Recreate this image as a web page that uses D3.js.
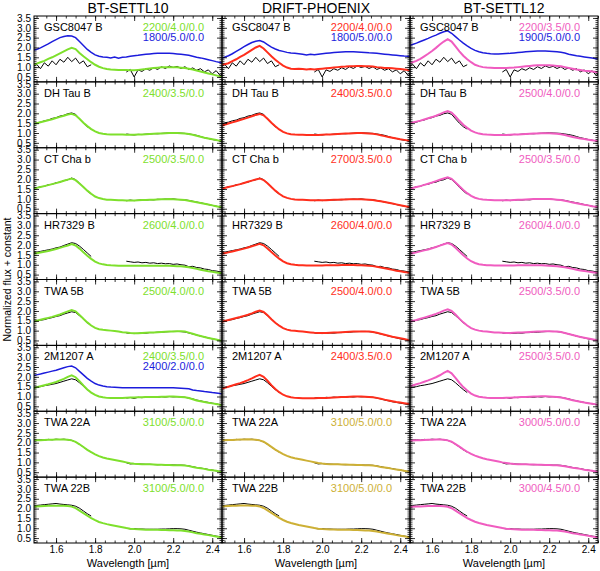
<!DOCTYPE html>
<html>
<head>
<meta charset="utf-8">
<script src="https://cdn.jsdelivr.net/npm/d3@7"></script>
<style>
  body { margin: 0; background: #fff; }
  text { font-family: "Liberation Sans", Arial, sans-serif; fill: #000; }
</style>
</head>
<body>
<svg id="chart" width="600" height="571"></svg>
<script>
// wavelength grids in micron
const modelWave = [1.48,1.50,1.52,1.54,1.56,1.58,1.60,1.62,1.64,1.66,
  1.68,1.70,1.72,1.74,1.76,1.78,1.80,1.82,1.84,1.86,
  1.88,1.90,1.92,1.94,1.96,1.98,2.00,2.02,2.04,2.06,
  2.08,2.10,2.12,2.14,2.16,2.18,2.20,2.22,2.24,2.26,
  2.28,2.30,2.32,2.34,2.36,2.38,2.40,2.42,2.44,2.46];
const obsWaveH = [1.48,1.50,1.52,1.54,1.56,1.58,1.60,1.62,1.64,1.66,1.68,1.70,1.72,1.74,1.76,1.78];
const obsWaveK = [1.96,1.98,2.00,2.02,2.04,2.06,2.08,2.10,2.12,2.14,2.16,2.18,2.20,
  2.22,2.24,2.26,2.28,2.30,2.32,2.34,2.36,2.38,2.40,2.42,2.44,2.46];

const gridNames = ["BT-SETTL10", "DRIFT-PHOENIX", "BT-SETTL12"];
const objectNames = ["GSC8047 B", "DH Tau B", "CT Cha b", "HR7329 B", "TWA 5B", "2M1207 A", "TWA 22A", "TWA 22B"];
const yTicks = [0.5, 1.0, 1.5, 2.0, 2.5, 3.0, 3.5];
const xTicks = [1.6, 1.8, 2.0, 2.2, 2.4];

// observed spectra (black), H and K windows
const obsH_gsc = [1.00,1.15,0.92,1.22,1.05,1.32,1.12,1.40,1.25,1.50,1.28,1.46,1.18,1.32,1.02,1.12];
const obsK_gsc = [0.75,0.88,0.50,0.86,0.78,0.92,0.84,0.97,0.88,1.02,0.93,1.06,0.98,1.04,0.93,1.02,0.88,0.96,0.84,0.92,0.76,0.86,0.66,0.82,0.58,0.72];
const obsH_dhtau = [1.45,1.52,1.55,1.62,1.66,1.74,1.78,1.86,1.90,1.98,2.02,1.95,1.72,1.50,1.32,1.20];
const obsK_dhtau = [0.95,0.92,0.90,0.93,0.92,0.94,0.95,0.97,0.96,0.98,0.99,1.00,1.01,1.00,0.99,0.98,0.95,0.92,0.88,0.82,0.76,0.72,0.67,0.63,0.60,0.57];
const obsH_ctcha = [1.52,1.55,1.62,1.64,1.72,1.74,1.82,1.85,1.93,1.97,2.06,1.98,1.80,1.58,1.40,1.24];
const obsK_ctcha = [0.90,0.94,0.91,0.93,0.95,0.94,0.96,0.95,0.98,0.97,0.99,0.98,1.00,0.97,0.96,0.95,0.92,0.88,0.84,0.80,0.76,0.71,0.67,0.63,0.58,0.55];
const obsH_hr7329 = [1.60,1.64,1.68,1.72,1.76,1.80,1.86,1.90,1.98,2.05,2.12,2.08,1.95,1.78,1.60,1.42];
const obsK_hr7329 = [1.18,1.15,1.12,1.14,1.10,1.12,1.08,1.10,1.06,1.08,1.05,1.06,1.02,1.04,1.00,0.98,0.90,0.92,0.86,0.84,0.78,0.76,0.70,0.68,0.64,0.62];
const obsH_twa5 = [1.44,1.47,1.53,1.56,1.62,1.66,1.72,1.76,1.84,1.90,1.96,1.92,1.76,1.58,1.40,1.26];
const obsK_twa5 = [0.88,0.86,0.85,0.86,0.88,0.87,0.90,0.90,0.92,0.92,0.94,0.95,0.96,0.96,0.95,0.93,0.88,0.83,0.78,0.72,0.68,0.63,0.58,0.54,0.50,0.47];
const obsH_2m1207 = [1.42,1.46,1.50,1.55,1.58,1.62,1.66,1.72,1.78,1.84,1.90,1.85,1.70,1.52,1.35,1.20];
const obsK_2m1207 = [0.92,0.95,0.90,0.96,0.94,0.97,0.95,0.98,0.96,0.99,0.97,1.00,0.98,0.99,0.97,0.96,0.92,0.88,0.82,0.78,0.73,0.70,0.66,0.63,0.58,0.55];
const obsH_twa22a = [2.12,2.14,2.15,2.13,2.17,2.15,2.18,2.16,2.18,2.15,2.12,2.04,1.92,1.78,1.64,1.52];
const obsK_twa22a = [0.98,0.92,0.94,0.92,0.91,0.90,0.90,0.89,0.88,0.89,0.88,0.87,0.87,0.86,0.86,0.85,0.82,0.78,0.74,0.71,0.68,0.64,0.61,0.57,0.53,0.50];
const obsH_twa22b = [2.12,2.16,2.18,2.20,2.22,2.24,2.26,2.23,2.21,2.19,2.17,2.12,2.02,1.88,1.74,1.62];
const obsK_twa22b = [1.00,0.97,0.98,0.96,0.96,0.95,0.95,0.95,0.95,0.96,0.96,0.97,0.98,0.98,0.97,0.95,0.90,0.85,0.80,0.76,0.72,0.68,0.64,0.60,0.57,0.55];

// BT-SETTL10 models
const s10_gsc = [1.12,1.18,1.25,1.32,1.42,1.50,1.60,1.70,1.80,1.90,
  1.98,1.92,1.72,1.55,1.40,1.25,1.12,1.02,0.95,0.90,
  0.88,0.87,0.86,0.85,0.85,0.84,0.84,0.86,0.88,0.90,
  0.93,0.95,0.97,0.99,1.00,1.00,1.00,0.99,0.97,0.95,
  0.92,0.88,0.83,0.78,0.73,0.68,0.63,0.58,0.53,0.50];
const s10_gscCool = [1.85,1.90,1.98,2.08,2.18,2.30,2.40,2.50,2.56,2.60,
  2.58,2.50,2.30,2.10,1.90,1.75,1.62,1.55,1.52,1.50,
  1.46,1.51,1.45,1.50,1.52,1.55,1.58,1.60,1.63,1.65,
  1.67,1.69,1.70,1.70,1.71,1.70,1.69,1.67,1.65,1.63,
  1.60,1.55,1.50,1.47,1.43,1.38,1.33,1.28,1.24,1.20];
const s10_dhtau = [1.45,1.50,1.55,1.60,1.65,1.70,1.76,1.82,1.88,1.94,
  1.98,1.90,1.72,1.52,1.35,1.20,1.08,1.00,0.96,0.94,
  0.93,0.93,0.92,0.92,0.91,0.91,0.91,0.92,0.93,0.94,
  0.95,0.96,0.97,0.98,0.99,1.00,1.00,1.00,0.99,0.98,
  0.95,0.91,0.86,0.81,0.76,0.72,0.68,0.64,0.60,0.57];
const s10_ctcha = [1.52,1.56,1.60,1.65,1.70,1.75,1.80,1.86,1.92,1.98,
  2.03,1.95,1.78,1.60,1.42,1.26,1.12,1.04,0.99,0.96,
  0.95,0.94,0.93,0.93,0.92,0.92,0.92,0.93,0.94,0.94,
  0.95,0.96,0.97,0.98,0.98,0.99,0.98,0.97,0.96,0.94,
  0.91,0.87,0.83,0.79,0.75,0.71,0.67,0.63,0.59,0.56];
const s10_hr7329 = [1.55,1.58,1.62,1.66,1.70,1.75,1.80,1.86,1.92,1.98,
  2.05,1.98,1.82,1.64,1.46,1.30,1.16,1.07,1.02,0.99,
  0.97,0.96,0.95,0.95,0.95,0.95,0.95,0.95,0.95,0.95,
  0.95,0.95,0.95,0.95,0.95,0.95,0.94,0.93,0.92,0.90,
  0.87,0.83,0.79,0.75,0.71,0.67,0.64,0.61,0.58,0.55];
const s10_twa5 = [1.45,1.50,1.55,1.60,1.65,1.70,1.76,1.82,1.90,1.98,
  2.05,1.98,1.80,1.60,1.42,1.26,1.14,1.07,1.04,1.02,
  1.00,0.98,0.95,0.92,0.90,0.88,0.87,0.87,0.88,0.89,
  0.90,0.91,0.92,0.93,0.94,0.95,0.96,0.97,0.97,0.95,
  0.90,0.84,0.78,0.73,0.68,0.63,0.59,0.55,0.50,0.47];
const s10_2m1207 = [1.42,1.47,1.52,1.57,1.62,1.68,1.74,1.82,1.90,2.00,
  2.08,1.98,1.78,1.56,1.36,1.20,1.08,1.00,0.96,0.93,
  0.92,0.92,0.92,0.93,0.94,0.95,0.95,0.96,0.96,0.97,
  0.97,0.98,0.98,0.99,0.99,1.00,1.00,0.99,0.98,0.96,
  0.92,0.86,0.80,0.76,0.72,0.68,0.65,0.62,0.58,0.55];
const s10_2m1207LowG = [2.06,2.10,2.14,2.19,2.24,2.29,2.34,2.40,2.46,2.52,
  2.55,2.46,2.28,2.10,1.92,1.78,1.66,1.58,1.53,1.50,
  1.48,1.47,1.46,1.45,1.45,1.44,1.44,1.44,1.44,1.44,
  1.44,1.44,1.44,1.44,1.44,1.44,1.44,1.43,1.42,1.41,
  1.39,1.33,1.30,1.28,1.25,1.23,1.20,1.18,1.15,1.13];
const s10_twa22a = [2.12,2.13,2.13,2.14,2.15,2.15,2.16,2.16,2.16,2.15,
  2.12,2.04,1.92,1.78,1.64,1.52,1.41,1.32,1.25,1.20,
  1.16,1.12,1.08,1.04,1.00,0.96,0.93,0.92,0.91,0.90,
  0.90,0.89,0.88,0.88,0.87,0.87,0.86,0.86,0.85,0.84,
  0.81,0.77,0.73,0.70,0.67,0.63,0.60,0.57,0.53,0.50];
const s10_twa22b = [2.10,2.11,2.12,2.13,2.14,2.15,2.15,2.15,2.15,2.13,
  2.10,2.02,1.90,1.77,1.64,1.52,1.41,1.32,1.26,1.21,
  1.17,1.13,1.09,1.05,1.01,0.98,0.96,0.95,0.94,0.93,
  0.93,0.92,0.92,0.91,0.91,0.90,0.90,0.89,0.88,0.86,
  0.83,0.79,0.75,0.72,0.68,0.65,0.62,0.58,0.55,0.52];

// DRIFT-PHOENIX models
const dp_gsc = [1.10,1.15,1.20,1.30,1.40,1.52,1.62,1.75,1.88,2.00,
  2.08,1.95,1.75,1.55,1.38,1.22,1.08,0.98,0.92,0.90,
  0.92,0.90,0.88,0.90,0.88,0.90,0.92,0.94,0.96,0.98,
  1.00,1.02,1.03,1.05,1.05,1.06,1.06,1.05,1.04,1.03,
  1.00,0.98,0.96,0.95,0.94,0.92,0.90,0.88,0.86,0.85];
const dp_gscCool = [1.45,1.50,1.58,1.68,1.80,1.92,2.04,2.15,2.25,2.32,
  2.35,2.28,2.15,2.02,1.92,1.85,1.80,1.75,1.72,1.70,
  1.68,1.66,1.62,1.65,1.63,1.66,1.68,1.70,1.72,1.74,
  1.76,1.77,1.78,1.78,1.78,1.77,1.76,1.75,1.73,1.72,
  1.70,1.68,1.66,1.64,1.62,1.60,1.58,1.56,1.55,1.53];
const dp_dhtau = [1.35,1.42,1.48,1.54,1.60,1.66,1.72,1.78,1.85,1.92,
  1.97,1.90,1.72,1.52,1.34,1.18,1.06,0.98,0.94,0.92,
  0.91,0.91,0.90,0.90,0.90,0.90,0.91,0.92,0.93,0.94,
  0.95,0.96,0.97,0.98,0.99,1.00,1.00,0.99,0.98,0.96,
  0.93,0.89,0.84,0.80,0.76,0.72,0.68,0.65,0.62,0.59];
const dp_ctcha = [1.50,1.55,1.60,1.65,1.70,1.75,1.81,1.87,1.93,1.99,
  2.04,1.96,1.79,1.60,1.42,1.26,1.13,1.05,1.00,0.97,
  0.96,0.95,0.94,0.93,0.93,0.93,0.93,0.93,0.94,0.95,
  0.96,0.97,0.97,0.98,0.98,0.98,0.98,0.97,0.96,0.94,
  0.91,0.88,0.84,0.80,0.76,0.72,0.68,0.64,0.60,0.57];
const dp_hr7329 = [1.55,1.59,1.63,1.67,1.72,1.77,1.82,1.88,1.94,2.00,
  2.06,1.99,1.83,1.65,1.47,1.31,1.17,1.08,1.03,1.00,
  0.98,0.97,0.96,0.96,0.96,0.96,0.96,0.97,0.97,0.98,
  0.98,0.99,0.99,0.99,0.99,0.98,0.97,0.96,0.95,0.93,
  0.90,0.86,0.82,0.78,0.74,0.70,0.67,0.63,0.60,0.57];
const dp_twa5 = [1.44,1.49,1.54,1.59,1.64,1.69,1.75,1.81,1.88,1.96,
  2.02,1.95,1.78,1.58,1.40,1.25,1.13,1.05,1.01,0.99,
  0.97,0.95,0.93,0.91,0.89,0.88,0.88,0.88,0.89,0.90,
  0.91,0.92,0.93,0.94,0.95,0.96,0.96,0.96,0.95,0.93,
  0.89,0.84,0.79,0.74,0.69,0.65,0.61,0.57,0.53,0.50];
const dp_2m1207 = [1.38,1.44,1.50,1.56,1.62,1.68,1.75,1.83,1.92,2.02,
  2.10,2.00,1.80,1.58,1.38,1.22,1.09,1.01,0.96,0.93,
  0.92,0.91,0.91,0.91,0.91,0.92,0.92,0.93,0.94,0.95,
  0.96,0.97,0.98,0.99,1.00,1.00,1.00,0.99,0.98,0.96,
  0.93,0.89,0.84,0.80,0.76,0.72,0.69,0.66,0.63,0.60];
const dp_twa22a = [2.12,2.13,2.14,2.14,2.15,2.16,2.16,2.17,2.16,2.15,
  2.12,2.05,1.93,1.79,1.65,1.53,1.42,1.33,1.26,1.21,
  1.17,1.13,1.09,1.05,1.01,0.97,0.94,0.92,0.91,0.90,
  0.90,0.89,0.89,0.88,0.88,0.87,0.87,0.86,0.85,0.84,
  0.81,0.77,0.74,0.71,0.67,0.64,0.61,0.57,0.54,0.51];
const dp_twa22b = [2.10,2.12,2.13,2.14,2.15,2.16,2.16,2.16,2.15,2.14,
  2.11,2.03,1.91,1.78,1.65,1.53,1.42,1.33,1.27,1.22,
  1.17,1.13,1.09,1.05,1.01,0.98,0.96,0.95,0.94,0.94,
  0.93,0.93,0.92,0.92,0.91,0.91,0.90,0.89,0.88,0.86,
  0.83,0.79,0.76,0.72,0.69,0.65,0.62,0.59,0.56,0.53];

// BT-SETTL12 models
const s12_gsc = [1.20,1.25,1.32,1.42,1.55,1.68,1.82,1.98,2.15,2.30,
  2.42,2.30,2.05,1.80,1.58,1.40,1.25,1.12,1.05,1.00,
  0.98,0.97,0.95,0.95,0.95,0.96,0.97,0.98,1.00,1.02,
  1.04,1.06,1.08,1.10,1.10,1.10,1.10,1.08,1.06,1.04,
  1.00,0.96,0.92,0.88,0.85,0.82,0.80,0.78,0.75,0.72];
const s12_gscCool = [2.10,2.15,2.22,2.30,2.38,2.46,2.55,2.63,2.72,2.80,
  2.85,2.72,2.55,2.38,2.22,2.08,1.95,1.85,1.78,1.73,
  1.70,1.68,1.67,1.67,1.68,1.69,1.70,1.72,1.74,1.76,
  1.78,1.80,1.81,1.82,1.82,1.82,1.81,1.80,1.78,1.76,
  1.72,1.66,1.62,1.58,1.55,1.52,1.49,1.46,1.43,1.40];
const s12_dhtau = [1.48,1.53,1.58,1.63,1.69,1.75,1.81,1.88,1.96,2.05,
  2.12,2.04,1.84,1.62,1.42,1.26,1.12,1.03,0.97,0.94,
  0.92,0.91,0.90,0.90,0.90,0.90,0.91,0.92,0.93,0.94,
  0.95,0.96,0.97,0.98,0.99,0.99,0.99,0.98,0.96,0.94,
  0.90,0.85,0.80,0.76,0.72,0.69,0.66,0.63,0.60,0.57];
const s12_ctcha = [1.50,1.55,1.60,1.65,1.71,1.77,1.83,1.90,1.97,2.04,
  2.10,2.02,1.84,1.64,1.45,1.29,1.15,1.06,1.00,0.97,
  0.95,0.94,0.93,0.93,0.93,0.93,0.93,0.94,0.95,0.96,
  0.97,0.98,0.99,0.99,1.00,1.00,0.99,0.98,0.96,0.94,
  0.90,0.86,0.82,0.78,0.74,0.70,0.67,0.63,0.60,0.57];
const s12_hr7329 = [1.55,1.59,1.63,1.68,1.73,1.78,1.84,1.90,1.97,2.04,
  2.10,2.03,1.86,1.67,1.48,1.32,1.18,1.09,1.03,1.00,
  0.98,0.97,0.96,0.96,0.96,0.96,0.96,0.96,0.97,0.97,
  0.97,0.97,0.97,0.97,0.97,0.96,0.95,0.94,0.92,0.90,
  0.87,0.83,0.79,0.75,0.71,0.68,0.65,0.62,0.59,0.56];
const s12_twa5 = [1.44,1.49,1.54,1.60,1.66,1.72,1.78,1.85,1.93,2.02,
  2.08,2.00,1.82,1.61,1.42,1.26,1.13,1.05,1.00,0.97,
  0.95,0.93,0.91,0.90,0.89,0.88,0.88,0.89,0.90,0.91,
  0.92,0.93,0.94,0.95,0.96,0.97,0.97,0.96,0.95,0.93,
  0.88,0.83,0.78,0.73,0.68,0.64,0.60,0.56,0.52,0.49];
const s12_2m1207 = [1.50,1.56,1.62,1.68,1.75,1.82,1.90,1.98,2.08,2.20,
  2.30,2.18,1.95,1.70,1.48,1.30,1.15,1.05,0.99,0.96,
  0.94,0.93,0.93,0.93,0.93,0.94,0.94,0.95,0.96,0.97,
  0.98,0.99,1.00,1.00,1.01,1.01,1.00,0.99,0.97,0.95,
  0.91,0.86,0.81,0.77,0.73,0.69,0.66,0.63,0.60,0.57];
const s12_twa22a = [2.10,2.11,2.12,2.13,2.14,2.15,2.15,2.16,2.16,2.15,
  2.12,2.05,1.93,1.80,1.66,1.54,1.43,1.34,1.27,1.21,
  1.16,1.12,1.08,1.04,1.00,0.97,0.94,0.92,0.91,0.90,
  0.90,0.89,0.89,0.88,0.88,0.87,0.87,0.86,0.85,0.83,
  0.80,0.77,0.73,0.70,0.67,0.63,0.60,0.57,0.54,0.51];
const s12_twa22b = [2.08,2.09,2.10,2.11,2.12,2.13,2.13,2.13,2.13,2.12,
  2.09,2.02,1.90,1.77,1.64,1.52,1.42,1.33,1.27,1.22,
  1.17,1.13,1.09,1.05,1.01,0.98,0.96,0.95,0.94,0.93,
  0.93,0.92,0.92,0.91,0.91,0.90,0.90,0.89,0.88,0.86,
  0.83,0.79,0.75,0.72,0.68,0.65,0.62,0.58,0.55,0.52];

// model labels (Teff/logg/[M/H]) per column, rows follow objectNames
const labels10 = ["2200/4.0/0.0","2400/3.5/0.0","2500/3.5/0.0","2600/4.0/0.0","2500/4.0/0.0","2400/3.5/0.0","3100/5.0/0.0","3100/5.0/0.0"];
const labelsDP = ["2200/4.0/0.0","2400/3.5/0.0","2700/3.5/0.0","2600/4.0/0.0","2500/4.0/0.0","2400/3.5/0.0","3100/5.0/0.0","3100/5.0/0.0"];
const labels12 = ["2200/3.5/0.0","2500/4.0/0.0","2500/3.5/0.0","2600/4.0/0.0","2500/3.5/0.0","2500/3.5/0.0","3000/5.0/0.0","3000/4.5/0.0"];

const colors = { green: "#7ee02c", red: "#ff2e1c", pink: "#f05cc0", blue: "#1c1cdc", gold: "#cdb035" };

// build the tables the drawing needs
const obsH = [obsH_gsc, obsH_dhtau, obsH_ctcha, obsH_hr7329, obsH_twa5, obsH_2m1207, obsH_twa22a, obsH_twa22b];
const obsK = [obsK_gsc, obsK_dhtau, obsK_ctcha, obsK_hr7329, obsK_twa5, obsK_2m1207, obsK_twa22a, obsK_twa22b];
const columns = [
  { title: gridNames[0], color: colors.green, labels: labels10,
    models: [s10_gsc, s10_dhtau, s10_ctcha, s10_hr7329, s10_twa5, s10_2m1207, s10_twa22a, s10_twa22b],
    extra: { 0: ["1800/5.0/0.0", s10_gscCool], 5: ["2400/2.0/0.0", s10_2m1207LowG] } },
  { title: gridNames[1], color: colors.red, labels: labelsDP,
    models: [dp_gsc, dp_dhtau, dp_ctcha, dp_hr7329, dp_twa5, dp_2m1207, dp_twa22a, dp_twa22b],
    extra: { 0: ["1800/5.0/0.0", dp_gscCool] }, colorRows: { 6: colors.gold, 7: colors.gold } },
  { title: gridNames[2], color: colors.pink, labels: labels12,
    models: [s12_gsc, s12_dhtau, s12_ctcha, s12_hr7329, s12_twa5, s12_2m1207, s12_twa22a, s12_twa22b],
    extra: { 0: ["1900/5.0/0.0", s12_gscCool] } }
];

const plotLeft = 34, plotTop = 16, colW = 188, rowH = 65.875;
const svg = d3.select("#chart");

const x = d3.scaleLinear().domain([1.487, 2.45]).range([0, colW]);
const y = d3.scaleLinear().domain([0.25, 3.6]).range([rowH, 0]);
const line = d3.line().x(d => x(d[0])).y(d => y(d[1]));
const zip = (w, v) => w.map((l, i) => [l, v[i]]);

const yMinor = d3.range(3, 36).map(v => v / 10);
const xMinor = d3.range(30, 50).map(v => v / 20);

svg.append("defs").append("clipPath").attr("id", "panel-clip")
  .append("rect").attr("width", colW).attr("height", rowH);

function drawAxes(g, col, row) {
  const lastRow = row === objectNames.length - 1;
  const fmt = d3.format(".1f");
  const specs = [
    [d3.axisLeft(y), yTicks, yMinor, "", col === 0],
    [d3.axisRight(y), yTicks, yMinor, `translate(${colW},0)`, false],
    [d3.axisTop(x), xTicks, xMinor, "", false],
    [d3.axisBottom(x), xTicks, xMinor, `translate(0,${rowH})`, lastRow]
  ];
  specs.forEach(([axis, major, minor, tr, showLabels]) => {
    const a1 = g.append("g").attr("transform", tr)
      .call(axis.tickValues(minor).tickSizeInner(-2.5).tickSizeOuter(0).tickFormat(""));
    a1.select(".domain").remove();
    const a2 = g.append("g").attr("transform", tr)
      .call(axis.tickValues(major).tickSizeInner(-5).tickSizeOuter(0)
        .tickPadding(3).tickFormat(showLabels ? fmt : ""));
    a2.select(".domain").remove();
    a2.selectAll("text").style("font-size", "10px").style("font-family", "Liberation Sans, Arial, sans-serif");
  });
  g.selectAll(".tick line").attr("stroke", "#000").attr("stroke-width", 0.8);
}

columns.forEach((c, ci) => {
  const cx = plotLeft + ci * colW;

  svg.append("text").attr("x", cx + colW / 2).attr("y", 13)
    .attr("text-anchor", "middle").style("font-size", "14px").text(c.title);

  objectNames.forEach((name, ri) => {
    const g = svg.append("g").attr("transform", `translate(${cx},${plotTop + ri * rowH})`);
    const plot = g.append("g").attr("clip-path", "url(#panel-clip)");
    const col = (c.colorRows && c.colorRows[ri]) || c.color;

    // observed spectrum first, model on top
    plot.append("path").attr("d", line(zip(obsWaveH, obsH[ri])))
      .attr("fill", "none").attr("stroke", "#000").attr("stroke-width", 1);
    plot.append("path").attr("d", line(zip(obsWaveK, obsK[ri])))
      .attr("fill", "none").attr("stroke", "#000").attr("stroke-width", 1);
    plot.append("path").attr("d", line(zip(modelWave, c.models[ri])))
      .attr("fill", "none").attr("stroke", col).attr("stroke-width", 2);

    const ex = c.extra[ri];
    if (ex) {
      plot.append("path").attr("d", line(zip(modelWave, ex[1])))
        .attr("fill", "none").attr("stroke", colors.blue).attr("stroke-width", 1.5);
    }

    g.append("rect").attr("width", colW).attr("height", rowH)
      .attr("fill", "none").attr("stroke", "#000").attr("stroke-width", 1);
    drawAxes(g, ci, ri);

    g.append("text").attr("x", 10).attr("y", 15).style("font-size", "11px").text(name);
    g.append("text").attr("x", colW - 18).attr("y", 15).attr("text-anchor", "end")
      .style("font-size", "11px").style("fill", col).text(c.labels[ri]);
    if (ex) {
      g.append("text").attr("x", colW - 18).attr("y", 25).attr("text-anchor", "end")
        .style("font-size", "11px").style("fill", colors.blue).text(ex[0]);
    }
  });

  svg.append("text").attr("x", cx + colW / 2).attr("y", 567)
    .attr("text-anchor", "middle").style("font-size", "11px").text("Wavelength [µm]");
});

svg.append("text").attr("transform", `translate(11,${plotTop + 4 * rowH}) rotate(-90)`)
  .attr("text-anchor", "middle").style("font-size", "10.5px").text("Normalized flux + constant");
</script>
</body>
</html>
